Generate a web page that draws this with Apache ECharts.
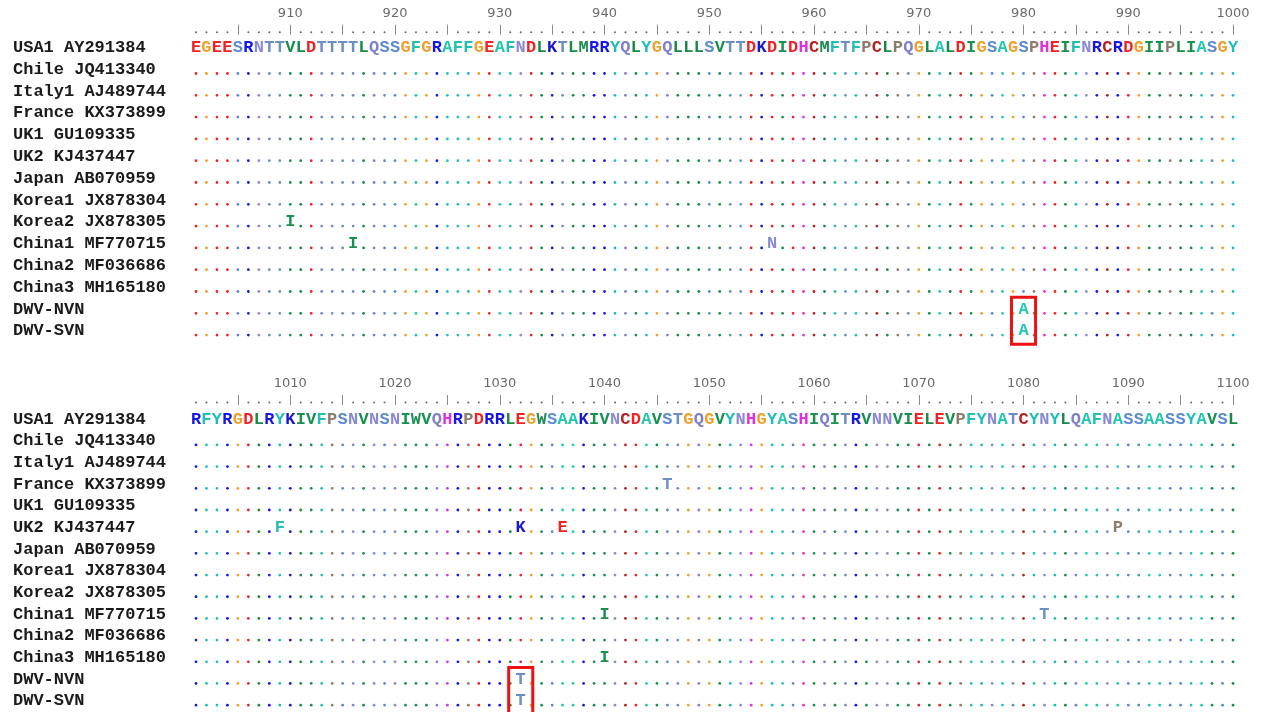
<!DOCTYPE html>
<html><head><meta charset="utf-8">
<script src="https://cdn.jsdelivr.net/npm/echarts@6/dist/echarts.min.js"></script>
<style>html,body{margin:0;padding:0;background:#fff}#c{width:1261px;height:712px}</style>
</head><body><div id="c"></div>
<script>
// ---------------- DATA ----------------
const seqNames = ['USA1 AY291384','Chile JQ413340','Italy1 AJ489744','France KX373899','UK1 GU109335','UK2 KJ437447','Japan AB070959','Korea1 JX878304','Korea2 JX878305','China1 MF770715','China2 MF036686','China3 MH165180','DWV-NVN','DWV-SVN'];
const block1Start = 901;
const block1Ref = 'EGEESRNTTVLDTTTTLQSSGFGRAFFGEAFNDLKTLMRRYQLYGQLLLSVTTDKDIDHCMFTFPCLPQGLALDIGSAGSPHEIFNRCRDGIIPLIASGY';
const block1Labels = [910,920,930,940,950,960,970,980,990,1000];
const block2Start = 1001;
const block2Ref = 'RFYRGDLRYKIVFPSNVNSNIWVQHRPDRRLEGWSAAKIVNCDAVSTGQGVYNHGYASHIQITRVNNVIELEVPFYNATCYNYLQAFNASSAASSYAVSL';
const block2Labels = [1010,1020,1030,1040,1050,1060,1070,1080,1090,1100];
// substitutions relative to USA1: [sequence, position, residue]
const substitutions = [
  ['Korea2 JX878305', 910, 'I'],
  ['China1 MF770715', 916, 'I'],
  ['China1 MF770715', 956, 'N'],
  ['DWV-NVN', 980, 'A'],
  ['DWV-SVN', 980, 'A'],
  ['UK2 KJ437447', 1009, 'F'],
  ['UK2 KJ437447', 1032, 'K'],
  ['UK2 KJ437447', 1036, 'E'],
  ['UK2 KJ437447', 1089, 'P'],
  ['France KX373899', 1046, 'T'],
  ['China1 MF770715', 1040, 'I'],
  ['China1 MF770715', 1082, 'T'],
  ['China3 MH165180', 1040, 'I'],
  ['DWV-NVN', 1032, 'T'],
  ['DWV-SVN', 1032, 'T']
];
// highlighted columns: [position, first sequence, last sequence]
const highlights = [[980, 'DWV-NVN', 'DWV-SVN'], [1032, 'DWV-NVN', 'DWV-SVN']];

// ---------------- STYLE ----------------
const residueColors = {
  E:'#ee2424', D:'#ee2424', G:'#f0a028', S:'#5a8ad0', T:'#6c8ec4', R:'#1616e6', K:'#1818d2',
  N:'#8a8ad4', Q:'#7f80c8', V:'#149050', L:'#1a8a48', I:'#1a9050', M:'#1a8a50', W:'#1f9058',
  F:'#22c0b0', A:'#20c8b0', Y:'#20bcbc', H:'#e030e0', C:'#b42222', P:'#8c7c6c'
};
const MONO = '"Courier New","Liberation Mono",monospace';
const subMap = {};
substitutions.forEach(([n,p,c]) => { subMap[seqNames.indexOf(n) + '-' + p] = c; });

const blocks = [
  {start: block1Start, ref: block1Ref, labels: block1Labels, top: 36.8, axisOffset: 2, dotGap: 4.5},
  {start: block2Start, ref: block2Ref, labels: block2Labels, top: 408.4, axisOffset: 3.4, dotGap: 6}
];
const ROW_H = 21.8, GRID_LEFT = 190.76, GRID_W = 1047.5;

const grids = [], xAxes = [], yAxes = [], series = [];
blocks.forEach((b, i) => {
  const len = b.ref.length;
  const positions = [];
  for (let k = 0; k < len; k++) positions.push(b.start + k);
  const fives = positions.filter(p => p % 5 === 0);
  grids.push({left: GRID_LEFT, width: GRID_W, top: b.top, height: ROW_H * seqNames.length, show: false});
  xAxes.push({
    type: 'value', gridIndex: i, position: 'top', min: b.start - 0.5, max: b.start + len - 0.5,
    offset: b.axisOffset,
    axisLine: {show: false}, splitLine: {show: false},
    axisTick: {show: true, customValues: fives, length: 10, lineStyle: {color: '#8a8a8a', width: 1}},
    axisLabel: {show: true, customValues: b.labels, margin: 15, color: '#6a6a6a', fontFamily: 'DejaVu Sans', fontSize: 13, formatter: v => String(v)}
  });
  yAxes.push({
    type: 'category', gridIndex: i, data: seqNames, inverse: true,
    axisLine: {show: false}, axisTick: {show: false}, splitLine: {show: false},
    axisLabel: {interval: 0, hideOverlap: false, align: 'left', margin: GRID_LEFT - 13, color: '#1a1a1a', fontFamily: MONO, fontWeight: 'bold', fontSize: 17}
  });
  // ruler dots
  series.push({
    type: 'custom', xAxisIndex: i, yAxisIndex: i, silent: true,
    data: positions.map(p => [p, 0]),
    renderItem: (params, api) => {
      const p = api.value(0);
      if (p % 5 === 0) return null;
      const x = api.coord([p, 0])[0];
      return {type: 'circle', shape: {cx: x, cy: params.coordSys.y - b.dotGap, r: 1}, style: {fill: '#666'}};
    }
  });
  // residues
  const cells = [];
  seqNames.forEach((n, r) => positions.forEach(p => cells.push([p, r])));
  series.push({
    type: 'custom', xAxisIndex: i, yAxisIndex: i, silent: true, data: cells,
    renderItem: (params, api) => {
      const p = api.value(0), r = api.value(1);
      const pt = api.coord([p, r]);
      const refCh = b.ref[p - b.start];
      const ch = r === 0 ? refCh : subMap[r + '-' + p];
      if (ch) {
        return {type: 'text', x: pt[0], y: pt[1], style: {text: ch, fill: residueColors[ch] || '#000', font: 'bold 17px ' + MONO, align: 'center', verticalAlign: 'middle'}};
      }
      return {type: 'circle', shape: {cx: pt[0], cy: pt[1] + 4, r: 1.4}, style: {fill: residueColors[refCh] || '#999'}};
    }
  });
  // highlight boxes
  const boxes = highlights.filter(h => h[0] >= b.start && h[0] < b.start + len)
    .map(h => [h[0], seqNames.indexOf(h[1]), seqNames.indexOf(h[2])]);
  series.push({
    type: 'custom', xAxisIndex: i, yAxisIndex: i, silent: true, clip: false, z: 10, data: boxes,
    renderItem: (params, api) => {
      const p = api.value(0);
      const a = api.coord([p, api.value(1)]), c = api.coord([p, api.value(2)]);
      const sz = api.size([1, 1]);
      return {type: 'rect', shape: {x: a[0] - 1.15 * sz[0], y: a[1] - 0.55 * sz[1], width: 2.3 * sz[0], height: c[1] - a[1] + 1.15 * sz[1]},
        style: {fill: 'none', stroke: '#ee1111', lineWidth: 3}};
    }
  });
});

const chart = echarts.init(document.getElementById('c'));
chart.setOption({backgroundColor: '#ffffff', animation: false, grid: grids, xAxis: xAxes, yAxis: yAxes, series: series});
</script></body></html>
